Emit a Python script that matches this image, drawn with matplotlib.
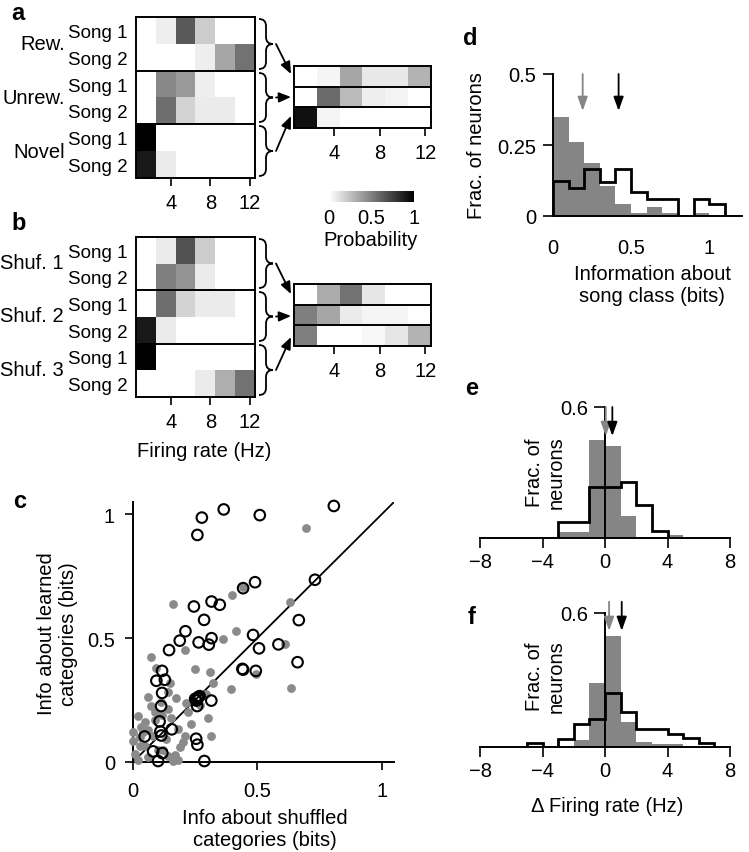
import numpy as np
import matplotlib.pyplot as plt
from matplotlib.colors import LinearSegmentedColormap
from matplotlib.path import Path
from matplotlib.patches import PathPatch

plt.rcParams['font.family'] = ['Liberation Sans', 'DejaVu Sans']
plt.rcParams['font.size'] = 14.5
plt.rcParams['axes.linewidth'] = 1.4
plt.rcParams['xtick.major.width'] = 1.2
plt.rcParams['ytick.major.width'] = 1.2

# ---- data ----
rate_ticks = [4, 8, 12]
song_labels = ['Song 1', 'Song 2'] * 3

# probability of firing-rate bins (2 Hz bins from 0.5 to 12.5 Hz)
learned_groups = ['Rew.', 'Unrew.', 'Novel']
learned_prob = [
    [0.0, 0.07, 0.65, 0.20, 0.0, 0.0],
    [0.0, 0.0, 0.0, 0.07, 0.35, 0.55],
    [0.0, 0.47, 0.40, 0.07, 0.0, 0.0],
    [0.0, 0.57, 0.17, 0.08, 0.08, 0.0],
    [1.0, 0.0, 0.0, 0.0, 0.0, 0.0],
    [0.9, 0.08, 0.0, 0.0, 0.0, 0.0],
]
learned_avg = [
    [0.0, 0.04, 0.35, 0.09, 0.09, 0.30],
    [0.0, 0.58, 0.27, 0.07, 0.05, 0.0],
    [0.93, 0.04, 0.0, 0.0, 0.0, 0.0],
]
shuffled_groups = ['Shuf. 1', 'Shuf. 2', 'Shuf. 3']
shuffled_prob = [
    [0.0, 0.08, 0.68, 0.20, 0.0, 0.0],
    [0.0, 0.50, 0.42, 0.08, 0.0, 0.0],
    [0.0, 0.57, 0.17, 0.08, 0.08, 0.0],
    [0.9, 0.08, 0.0, 0.0, 0.0, 0.0],
    [1.0, 0.0, 0.0, 0.0, 0.0, 0.0],
    [0.0, 0.0, 0.0, 0.08, 0.32, 0.55],
]
shuffled_avg = [
    [0.0, 0.33, 0.55, 0.10, 0.0, 0.0],
    [0.5, 0.35, 0.08, 0.04, 0.04, 0.0],
    [0.5, 0.0, 0.0, 0.03, 0.10, 0.30],
]

# panel c: (info about shuffled, info about learned)
open_pts = [
    (0.808, 1.034), (0.365, 1.02), (0.277, 0.987), (0.51, 0.997), (0.259, 0.917),
    (0.491, 0.726), (0.443, 0.702), (0.732, 0.736), (0.245, 0.628), (0.316, 0.648),
    (0.349, 0.635), (0.286, 0.574), (0.667, 0.573), (0.211, 0.528), (0.188, 0.49),
    (0.145, 0.452), (0.264, 0.483), (0.316, 0.5), (0.305, 0.474), (0.483, 0.513),
    (0.507, 0.459), (0.585, 0.475), (0.662, 0.403), (0.44, 0.376), (0.443, 0.373),
    (0.494, 0.368), (0.117, 0.368), (0.094, 0.328), (0.128, 0.332), (0.117, 0.279),
    (0.113, 0.226), (0.262, 0.262), (0.268, 0.266), (0.255, 0.248), (0.315, 0.248),
    (0.258, 0.226), (0.107, 0.164), (0.156, 0.132), (0.11, 0.123), (0.114, 0.107),
    (0.047, 0.103), (0.254, 0.094), (0.259, 0.07), (0.081, 0.043), (0.118, 0.036),
    (0.101, 0.004), (0.287, 0.004), (0.25, 0.255), (0.26, 0.258),
]
gray_pts = [
    (0.695, 0.944), (0.399, 0.675), (0.443, 0.705), (0.161, 0.638), (0.632, 0.647),
    (0.415, 0.529), (0.361, 0.496), (0.208, 0.453), (0.074, 0.425), (0.613, 0.477),
    (0.248, 0.375), (0.308, 0.364), (0.094, 0.378), (0.395, 0.294), (0.636, 0.298),
    (0.495, 0.355), (0.321, 0.321), (0.147, 0.321), (0.06, 0.261), (0.174, 0.257),
    (0.214, 0.238), (0.074, 0.227), (0.295, 0.274), (0.141, 0.214), (0.02, 0.184),
    (0.301, 0.176), (0.234, 0.153), (0.315, 0.106), (0.181, 0.133), (0.208, 0.106),
    (0.188, 0.059), (0.034, 0.14), (0.0, 0.086), (0.027, 0.066), (0.06, 0.13),
    (0.08, 0.106), (0.047, 0.066), (0.007, 0.032), (0.06, 0.019), (0.141, 0.025),
    (0.168, 0.027), (0.181, 0.008), (0.02, 0.008), (0.1, 0.05), (0.134, 0.093),
    (0.201, 0.08), (0.154, 0.177), (0.087, 0.171), (0.04, 0.12), (0.0, 0.12),
    (0.114, 0.241), (0.141, 0.282), (0.115, 0.19), (0.22, 0.2), (0.27, 0.23),
    (0.05, 0.16), (0.12, 0.05), (0.09, 0.2), (0.03, 0.1), (0.16, 0.005),
]

# panel d: information about song class
info_edges_gray = [0, 0.1, 0.2, 0.3, 0.4, 0.5, 0.6, 0.7, 0.8, 0.9, 1.0, 1.1]
info_gray = [0.35, 0.26, 0.186, 0.104, 0.041, 0.01, 0.032, 0.01, 0, 0.01, 0]
info_edges_black = [0, 0.1, 0.2, 0.3, 0.4, 0.5, 0.6, 0.7, 0.8, 0.9, 1.0, 1.1, 1.2]
info_black = [0.124, 0.1, 0.165, 0.12, 0.165, 0.085, 0.059, 0.059, 0, 0.061, 0.044, 0]
info_means = {'gray': 0.19, 'black': 0.42}

# panel e
e_edges_gray = [-3, -2, -1, 0, 1, 2, 3, 4, 5]
e_gray = [0.028, 0.028, 0.45, 0.42, 0.10, 0, 0, 0.012]
e_edges_black = [-3, -2, -1, 0, 1, 2, 3, 4]
e_black = [0.073, 0.073, 0.234, 0.234, 0.257, 0.15, 0.032]
e_means = {'gray': 0.05, 'black': 0.47}

# panel f
f_edges_gray = [-2, -1, 0, 1, 2, 3, 4, 5]
f_gray = [0.03, 0.285, 0.497, 0.112, 0.022, 0.012, 0.012]
f_edges_black = [-5, -4, -3, -2, -1, 0, 1, 2, 3, 4, 5, 6, 7]
f_black = [0.02, 0, 0.037, 0.105, 0.127, 0.244, 0.157, 0.08, 0.08, 0.06, 0.04, 0.02]
f_means = {'gray': 0.26, 'black': 1.07}

GRAY = '#858585'
gray_cmap = LinearSegmentedColormap.from_list('wk', ['white', 'black'])

# ---- figure ----
W, H = 749, 853
fig = plt.figure(figsize=(W / 100, H / 100), dpi=100)


def add_ax(l, t, r, b, **kw):
    return fig.add_axes([l / W, 1 - b / H, (r - l) / W, (b - t) / H], **kw)


def ftext(x, y, s, **kw):
    fig.text(x / W, 1 - y / H, s, **kw)


def heatmap(ax, prob, ylabels=None):
    n = len(prob)
    im = ax.imshow(prob, cmap=gray_cmap, vmin=0, vmax=1, aspect='auto',
                   interpolation='nearest', extent=(0.5, 12.5, n, 0))
    step = 2 if ylabels else 1
    for k in range(step, n, step):
        ax.axhline(k, color='k', lw=1.4)
    ax.set_xticks(rate_ticks)
    ax.tick_params(axis='x', direction='out', length=6, pad=5)
    if ylabels:
        ax.set_yticks(np.arange(n) + 0.5, ylabels, fontsize=13.5)
        ax.tick_params(axis='y', length=0, pad=6)
    else:
        ax.set_yticks([])
    return im


# panel a
ax_a = add_ax(136, 18, 255, 179)
im = heatmap(ax_a, learned_prob, song_labels)
for g, yc in zip(learned_groups, [45, 98, 152]):
    ftext(65, yc, g, ha='right', va='center')
ax_a2 = add_ax(294, 67, 431, 129)
heatmap(ax_a2, learned_avg)

cax = add_ax(329, 192, 414, 203)
cb = fig.colorbar(im, cax=cax, orientation='horizontal', ticks=[0, 0.5, 1])
cb.outline.set_visible(False)
cb.ax.set_xticklabels(['0', '0.5', '1'])
cb.ax.tick_params(length=0, pad=4)
ftext(371, 241, 'Probability', ha='center', va='center')

# panel b
ax_b = add_ax(136, 238, 255, 398)
heatmap(ax_b, shuffled_prob, song_labels)
for g, yc in zip(shuffled_groups, [264, 317, 371]):
    ftext(64, yc, g, ha='right', va='center')
ax_b2 = add_ax(294, 285, 431, 347)
heatmap(ax_b2, shuffled_avg)
ftext(204, 452, 'Firing rate (Hz)', ha='center', va='center')

# braces and arrows (overlay in pixel coordinates)
ov = add_ax(0, 0, W, H, zorder=10)
ov.set_xlim(0, W)
ov.set_ylim(H, 0)
ov.axis('off')


def brace(x0, y0, y1, w=14):
    xm, ym, r = x0 + w / 2, (y0 + y1) / 2, w / 2
    verts = [(x0, y0), (xm, y0), (xm, y0 + r), (xm, ym - r), (xm, ym), (x0 + w, ym),
             (xm, ym), (xm, ym + r), (xm, y1 - r), (xm, y1), (x0, y1)]
    codes = [Path.MOVETO, Path.CURVE3, Path.CURVE3, Path.LINETO, Path.CURVE3, Path.CURVE3,
             Path.CURVE3, Path.CURVE3, Path.LINETO, Path.CURVE3, Path.CURVE3]
    ov.add_patch(PathPatch(Path(verts, codes), fill=False, lw=1.3, color='k'))


aprops = dict(arrowstyle='-|>,head_length=0.6,head_width=0.25', mutation_scale=12,
              lw=1.3, color='k', shrinkA=0, shrinkB=0)
for (t, b), dst in zip([(20, 70), (74, 123), (127, 177)], [75, 98, 117]):
    brace(259, t, b)
    ov.annotate('', xy=(291, dst), xytext=(276, (t + b) / 2), arrowprops=aprops)
for (t, b), dst in zip([(240, 289), (293, 342), (346, 396)], [295, 317, 338]):
    brace(259, t, b)
    ov.annotate('', xy=(291, dst), xytext=(276, (t + b) / 2), arrowprops=aprops)

# panel c
ax_c = add_ax(133, 503, 394, 763)
gx, gy = np.array(gray_pts).T
ox, oy = np.array(open_pts).T
ax_c.scatter(gx, gy, s=40, color='#8a8a8a', lw=0, clip_on=False, zorder=3)
ax_c.scatter(ox, oy, s=58, facecolors='none', edgecolors='k', lw=1.5, clip_on=False, zorder=4)
ax_c.axline((0, 0), slope=1, color='k', lw=1.3, zorder=2)
ax_c.set_xlim(0, 1.05)
ax_c.set_ylim(0, 1.05)
ax_c.set_xticks([0, 0.5, 1], ['0', '0.5', '1'])
ax_c.set_yticks([0, 0.5, 1], ['0', '0.5', '1'])
ax_c.spines[['top', 'right']].set_visible(False)
ax_c.tick_params(axis='x', length=6, pad=8)
ax_c.tick_params(axis='y', length=6, pad=7)
ftext(57, 634, 'Info about learned\ncategories (bits)', rotation=90, ha='center', va='center')
ftext(265, 830, 'Info about shuffled\ncategories (bits)', ha='center', va='center')

# panel d
arrow_kw = dict(arrowstyle='-|>,head_length=0.7,head_width=0.25', mutation_scale=12,
                lw=1.3, shrinkA=0, shrinkB=0)
ax_d = add_ax(553, 75, 742, 217)
ax_d.bar(info_edges_gray[:-1], info_gray, width=0.1, align='edge', color=GRAY, lw=0)
ax_d.stairs(info_black, info_edges_black, baseline=0, color='k', lw=2, zorder=3)
ax_d.set_xlim(0, 1.21)
ax_d.set_ylim(0, 0.5)
ax_d.set_xticks([0, 0.5, 1], ['0', '0.5', '1'])
ax_d.set_yticks([0, 0.25, 0.5], ['0', '0.25', '0.5'])
ax_d.spines[['top', 'right']].set_visible(False)
ax_d.tick_params(axis='x', length=0, pad=16)
ax_d.tick_params(axis='y', length=7, pad=5)
for key, col in [('gray', GRAY), ('black', 'k')]:
    ax_d.annotate('', xy=(info_means[key], 0.37), xytext=(info_means[key], 0.5),
                  arrowprops=dict(color=col, **arrow_kw), annotation_clip=False)
ftext(477, 146, 'Frac. of neurons', rotation=90, ha='center', va='center')
ftext(652, 286, 'Information about\nsong class (bits)', ha='center', va='center')


def delta_hist(ax, eg, vg, eb, vb, means, tip, start):
    ax.bar(eg[:-1], vg, width=1, align='edge', color=GRAY, lw=0)
    ax.stairs(vb, eb, baseline=0, color='k', lw=2, zorder=3)
    ax.set_xlim(-8, 8)
    ax.set_ylim(0, 0.6)
    ax.spines[['top', 'right']].set_visible(False)
    ax.spines['left'].set_position(('data', 0))
    ax.spines['left'].set_bounds(0, 0.6)
    ax.set_xticks([-8, -4, 0, 4, 8], ['\u22128', '\u22124', '0', '4', '8'])
    ax.set_yticks([0.6], ['0.6'])
    ax.tick_params(axis='x', length=7, pad=3)
    ax.tick_params(axis='y', length=8, pad=4)
    for key, col in [('gray', GRAY), ('black', 'k')]:
        ax.annotate('', xy=(means[key], tip), xytext=(means[key], start),
                    arrowprops=dict(color=col, **arrow_kw), annotation_clip=False)


ax_e = add_ax(480, 408, 730, 539)
delta_hist(ax_e, e_edges_gray, e_gray, e_edges_black, e_black, e_means, 0.467, 0.6)
ftext(545, 473, 'Frac. of\nneurons', rotation=90, ha='center', va='center')

ax_f = add_ax(480, 614, 730, 748)
delta_hist(ax_f, f_edges_gray, f_gray, f_edges_black, f_black, f_means, 0.52, 0.65)
ftext(545, 677, 'Frac. of\nneurons', rotation=90, ha='center', va='center')
ftext(607, 807, '\u0394 Firing rate (Hz)', ha='center', va='center')

# panel letters
for s, x, y in [('a', 18, 2), ('b', 19, 212), ('c', 20, 490),
                ('d', 470, 27), ('e', 472, 377), ('f', 472, 606)]:
    ftext(x, y, s, ha='center', va='top', fontsize=17, fontweight='bold')

fig.savefig('out.png', dpi=100)
